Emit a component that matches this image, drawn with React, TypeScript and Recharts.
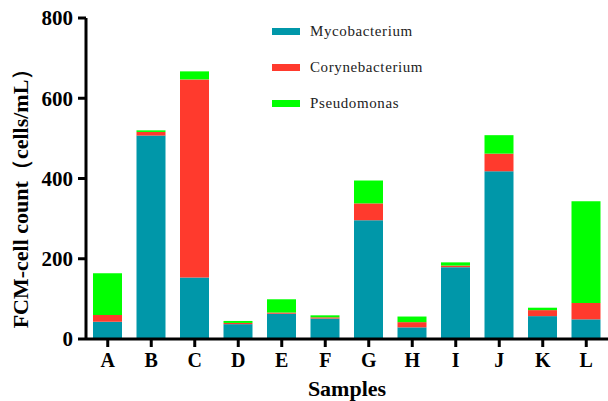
import { Bar, BarChart, Label, XAxis, YAxis } from "recharts"

const samples = ["A", "B", "C", "D", "E", "F", "G", "H", "I", "J", "K", "L"]
const mycobacterium = [43, 507, 153, 37, 63, 51, 296, 29, 179, 418, 57, 49]
const corynebacterium = [17, 9, 494, 3, 3, 3, 42, 13, 4, 44, 15, 41]
const pseudomonas = [104, 4, 20, 5, 33, 5, 57, 14, 8, 46, 6, 253]
const yTicks = [0, 200, 400, 600, 800]

const series = [
  { key: "Mycobacterium", color: "#0097a9" },
  { key: "Corynebacterium", color: "#ff3a2d" },
  { key: "Pseudomonas", color: "#00ff00" },
]

const data = samples.map((s, i) => ({
  name: s,
  Mycobacterium: mycobacterium[i],
  Corynebacterium: corynebacterium[i],
  Pseudomonas: pseudomonas[i],
}))

const serif = "Liberation Serif"

function LegendBox() {
  return (
    <div
      style={{
        position: "absolute",
        top: 13,
        left: 272,
        fontFamily: serif,
        fontSize: 15,
        color: "#222",
      }}
    >
      {series.map((s) => (
        <div key={s.key} style={{ display: "flex", alignItems: "center", height: 36 }}>
          <div style={{ width: 28, height: 7, backgroundColor: s.color, marginRight: 10 }} />
          <span style={{ letterSpacing: 0.6 }}>{s.key}</span>
        </div>
      ))}
    </div>
  )
}

export default function App() {
  return (
    <div style={{ position: "absolute", left: 0, top: 0, width: 608, height: 401, background: "#fff" }}>
      <BarChart
        width={608}
        height={401}
        data={data}
        margin={{ top: 18, right: 0, bottom: 17, left: 0 }}
        barSize={29}
      >
        <XAxis
          dataKey="name"
          height={45}
          axisLine={{ stroke: "#000", strokeWidth: 3 }}
          tickLine={{ stroke: "#000", strokeWidth: 3 }}
          tickSize={8}
          tickMargin={6}
          tick={{ fill: "#000", fontFamily: serif, fontWeight: "bold", fontSize: 20 }}
        >
          <Label
            content={() => (
              <text
                x={347}
                y={396}
                textAnchor="middle"
                fontFamily={serif}
                fontWeight="bold"
                fontSize={22}
                fill="#000"
              >
                Samples
              </text>
            )}
          />
        </XAxis>
        <YAxis
          width={86}
          domain={[0, 800]}
          ticks={yTicks}
          interval={0}
          axisLine={{ stroke: "#000", strokeWidth: 3 }}
          tickLine={{ stroke: "#000", strokeWidth: 3 }}
          tickSize={8}
          tickMargin={5}
          tick={{ fill: "#000", fontFamily: serif, fontWeight: "bold", fontSize: 21 }}
        >
          <Label
            content={() => (
              <text
                x={28}
                y={193}
                transform="rotate(-90, 28, 193)"
                textAnchor="middle"
                fontFamily={serif}
                fontWeight="bold"
                fontSize={22}
                fill="#000"
              >
                FCM-cell count（cells/mL）
              </text>
            )}
          />
        </YAxis>
        {series.map((s) => (
          <Bar key={s.key} dataKey={s.key} stackId="a" fill={s.color} isAnimationActive={false} />
        ))}
      </BarChart>
      <LegendBox />
    </div>
  )
}
